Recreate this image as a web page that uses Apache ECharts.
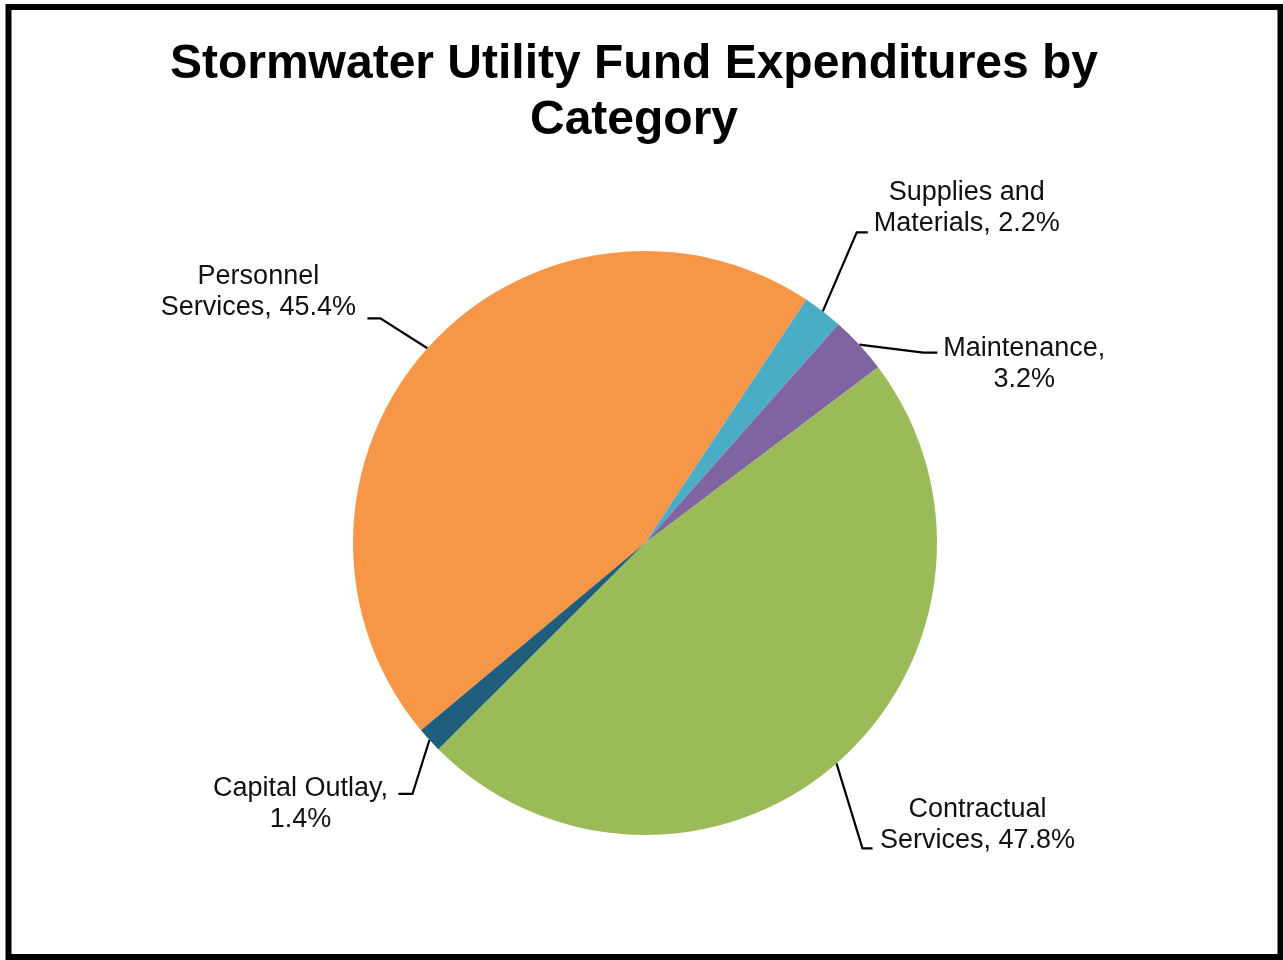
<!DOCTYPE html>
<html>
<head>
<meta charset="utf-8">
<script src="https://cdn.jsdelivr.net/npm/echarts@6/dist/echarts.min.js"></script>
<style>
html,body{margin:0;padding:0;background:#fff;}
#c{width:1283px;height:960px;}
</style>
</head>
<body>
<div id="c"></div>
<script>
// ---- data ----
const titleText = 'Stormwater Utility Fund Expenditures by\nCategory';
const categories = ['Personnel\nServices', 'Supplies and\nMaterials', 'Maintenance', 'Contractual\nServices', 'Capital Outlay'];
const shares = [45.4, 2.2, 3.2, 47.8, 1.4];

// ---- styling ----
const colors = ['#F79646', '#4BACC6', '#8064A2', '#9BBB59', '#1F5F7D'];
// label placement relative to the slice-edge anchor that ECharts computes
const labelPlacement = [
  { elbow: [-47, -30], end: -60, text: [-169, -56] },
  { elbow: [34, -79], end: 45, text: [144, -103] },
  { elbow: [64, 8], end: 78, text: [165, 19] },
  { elbow: [26, 85], end: 36, text: [141, 62] },
  { elbow: [-17, 54], end: -31, text: [-129, 64] }
];

const chart = echarts.init(document.getElementById('c'), null, { renderer: 'canvas' });

const seriesData = categories.map((name, i) => ({
  name: name,
  value: shares[i],
  itemStyle: { color: colors[i] }
}));

chart.setOption({
  animation: false,
  backgroundColor: '#ffffff',
  title: {
    text: titleText,
    left: 634,
    top: 37,
    padding: 0,
    textAlign: 'center',
    textStyle: {
      fontFamily: 'Liberation Sans, Arial, sans-serif',
      fontSize: 48,
      fontWeight: 'bold',
      lineHeight: 56,
      color: '#000'
    }
  },
  graphic: [{
    type: 'rect',
    shape: { x: 8.5, y: 7, width: 1272, height: 950 },
    style: { fill: 'none', stroke: '#000', lineWidth: 6 },
    silent: true,
    z: 100
  }],
  series: [{
    type: 'pie',
    center: [645, 543],
    radius: 292,
    startAngle: 219.9,
    clockwise: true,
    avoidLabelOverlap: false,
    itemStyle: { borderWidth: 0 },
    emphasis: { disabled: true },
    label: {
      show: true,
      position: 'outside',
      fontFamily: 'Liberation Sans, Arial, sans-serif',
      fontSize: 27,
      lineHeight: 31,
      color: '#111',
      formatter: function (p) {
        const pct = p.value.toFixed(1) + '%';
        return p.name.indexOf('\n') >= 0 ? p.name + ', ' + pct : p.name + ',\n' + pct;
      }
    },
    labelLine: {
      show: true,
      length: 20,
      length2: 10,
      lineStyle: { color: '#000', width: 2.2 }
    },
    labelLayout: function (p) {
      const pl = labelPlacement[p.dataIndex];
      const a = p.labelLinePoints[0];
      const e = [a[0] + pl.elbow[0], a[1] + pl.elbow[1]];
      return {
        x: a[0] + pl.text[0],
        y: a[1] + pl.text[1],
        align: 'center',
        verticalAlign: 'middle',
        labelLinePoints: [a, e, [a[0] + pl.end, e[1]]]
      };
    },
    data: seriesData
  }]
});
</script>
</body>
</html>
